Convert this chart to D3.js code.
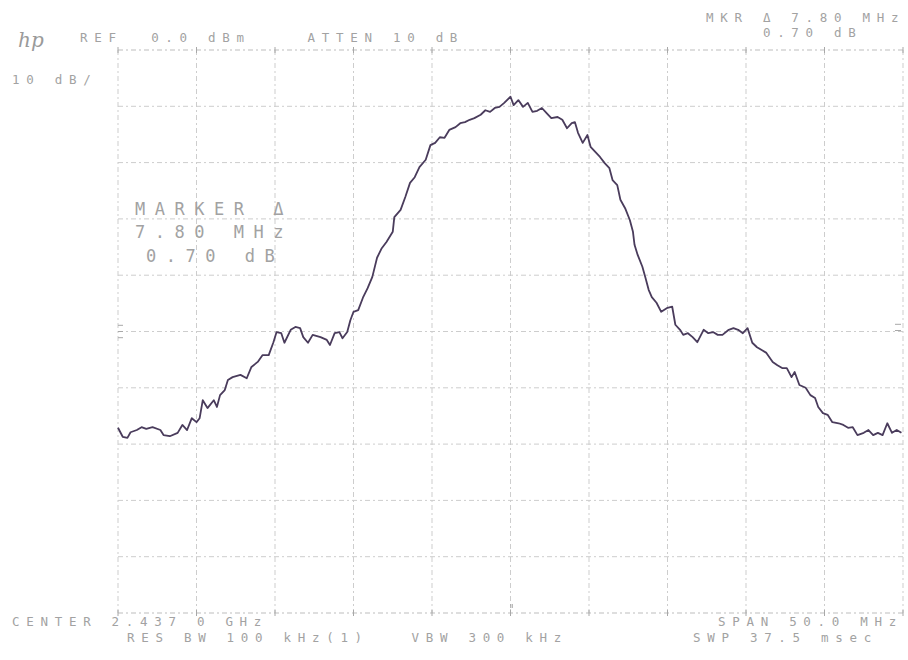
<!DOCTYPE html>
<html>
<head>
<meta charset="utf-8">
<script src="https://cdn.jsdelivr.net/npm/d3@7/dist/d3.min.js"></script>
<style>
  html, body { margin: 0; padding: 0; background: #ffffff; }
  svg { display: block; }
  .lbl { font-family: "DejaVu Sans Mono", "Liberation Mono", monospace; white-space: pre; }
</style>
</head>
<body>
<svg id="chart" width="908" height="660"></svg>
<script>
// Spectrum analyser plot: 2.4370 GHz centre, 50 MHz span, 10 dB/div from a 0 dBm reference.
const centerMHz = 2437.0;
const spanMHz = 50;
const refLevelDbm = 0;
const dbPerDiv = 10;
const xDivisions = 10;
const yDivisions = 10;

// Trace samples: offset from centre (MHz) and level (dBm)
const traceOffsetMHz = [
  -25.0, -24.7, -24.4, -24.2, -23.8, -23.5, -23.2, -22.8, -22.3, -22.1,
  -21.7, -21.2, -20.9, -20.6, -20.3, -20.0, -19.8, -19.6, -19.3, -18.9,
  -18.7, -18.5, -18.2, -18.0, -17.7, -17.2, -16.8, -16.5, -16.1, -15.8,
  -15.4, -15.1, -14.9, -14.6, -14.4, -14.0, -13.7, -13.4, -13.2, -12.9,
  -12.6, -12.1, -11.7, -11.5, -11.2, -10.9, -10.7, -10.4, -10.2, -10.0,
  -9.7, -9.4, -9.1, -8.8, -8.5, -8.2, -7.9, -7.5, -7.4, -7.0,
  -6.7, -6.4, -6.1, -5.8, -5.4, -5.1, -4.8, -4.5, -4.2, -3.9,
  -3.5, -3.2, -2.9, -2.6, -2.3, -1.9, -1.6, -1.3, -1.0, -0.7,
  -0.4, 0.0, 0.2,
  0.5, 0.8, 1.1, 1.4, 1.7, 2.0, 2.3, 2.6, 3.0, 3.3,
  3.6, 3.9, 4.1, 4.3, 4.6, 4.9, 5.1, 5.4, 5.7, 6.0,
  6.3, 6.5, 6.8, 7.0, 7.3, 7.6, 7.8, 7.9, 8.1, 8.4,
  8.6, 8.8, 9.0, 9.3, 9.6, 10.0, 10.3, 10.5, 10.8,
  11.0, 11.3, 11.6, 11.9, 12.3, 12.6, 12.9, 13.2, 13.5, 13.9,
  14.2, 14.5, 14.8, 15.1, 15.4, 15.7, 16.0, 16.3, 16.7, 17.0,
  17.3, 17.6, 17.9, 18.1, 18.4, 18.8, 19.1, 19.4, 19.6, 19.9,
  20.2, 20.5, 20.9, 21.2, 21.5, 21.8, 22.1, 22.5, 22.8, 23.1,
  23.4, 23.7, 24.0, 24.3, 24.6, 24.9
];
const traceLevelDbm = [
  -67.1, -68.7, -68.9, -67.9, -67.5, -67.0, -67.3, -67.0, -67.5, -68.4,
  -68.6, -68.0, -66.6, -67.5, -65.4, -66.1, -65.4, -62.2, -63.6, -62.2,
  -63.4, -61.3, -60.4, -58.6, -58.1, -57.7, -58.3, -56.3, -55.4, -54.2,
  -54.2, -51.9, -50.1, -50.3, -52.0, -49.7, -49.2, -49.4, -51.0, -52.0,
  -50.6, -51.0, -51.5, -52.4, -50.3, -50.1, -51.2, -50.1, -48.0, -46.5,
  -46.2, -44.0, -42.3, -40.3, -36.9, -35.2, -34.1, -32.3, -29.7, -28.4,
  -26.1, -23.6, -22.6, -20.8, -19.5, -16.9, -16.5, -15.5, -15.6, -14.2,
  -13.7, -13.0, -12.8, -12.4, -12.1, -11.5, -10.7, -11.0, -10.3, -10.1,
  -9.4, -8.3, -9.8,
  -8.9, -10.1, -9.4, -11.0, -10.8, -10.3, -11.2, -12.1, -11.9, -12.4,
  -13.9, -13.0, -12.8, -14.7, -16.5, -15.1, -17.2, -18.1, -19.0, -20.1,
  -21.0, -23.1, -24.0, -26.6, -28.1, -30.2, -32.3, -34.6, -36.4, -38.5,
  -40.5, -42.6, -43.9, -44.9, -46.5, -45.8, -45.6, -48.8, -49.7,
  -50.6, -50.3, -51.0, -51.9, -49.7, -50.3, -50.1, -50.6, -50.6, -49.7,
  -49.4, -49.7, -50.3, -49.4, -52.0, -52.8, -53.3, -53.8, -55.4, -56.0,
  -56.5, -56.5, -58.1, -57.2, -59.5, -60.0, -61.3, -61.8, -63.4, -64.5,
  -64.8, -66.1, -66.3, -66.6, -67.1, -67.0, -68.4, -68.0, -67.5, -68.4,
  -68.0, -68.4, -66.3, -68.0, -67.5, -68.0
];

// Annotation text
const headerLeft = "REF  0.0 dBm    ATTEN 10 dB";
const scaleLabel = "10 dB/";
const markerHeader = ["MKR \u0394 7.80 MHz", "    0.70 dB"];
const markerBlock = ["MARKER \u0394", "7.80 MHz", "0.70 dB"];
const footerLeft = ["CENTER 2.437 0 GHz", "RES BW 100 kHz(1)   VBW 300 kHz"];
const footerRight = ["SPAN 50.0 MHz", "SWP 37.5 msec"];

const svg = d3.select("#chart");
const plot = { left: 118, right: 903, top: 50, bottom: 613 };

const x = d3.scaleLinear()
  .domain([-spanMHz / 2, spanMHz / 2])
  .range([plot.left, plot.right]);
const y = d3.scaleLinear()
  .domain([refLevelDbm - dbPerDiv * yDivisions, refLevelDbm])
  .range([plot.bottom, plot.top]);

const xTicks = d3.range(xDivisions + 1).map(i => -spanMHz / 2 + i * spanMHz / xDivisions);
const yTicks = d3.range(yDivisions + 1).map(i => refLevelDbm - i * dbPerDiv);

// Graticule
const grid = svg.append("g").attr("fill", "none");
grid.selectAll("line.v").data(xTicks).join("line")
  .attr("class", "v")
  .attr("x1", d => x(d)).attr("x2", d => x(d))
  .attr("y1", plot.top).attr("y2", plot.bottom)
  .attr("stroke", "#cdcdcd").attr("stroke-width", 1)
  .attr("stroke-dasharray", "5 3 2 3");
grid.selectAll("line.h").data(yTicks).join("line")
  .attr("class", "h")
  .attr("x1", plot.left).attr("x2", plot.right)
  .attr("y1", d => y(d)).attr("y2", d => y(d))
  .attr("stroke", d => (d === refLevelDbm || d === refLevelDbm - dbPerDiv * yDivisions) ? "#bdbdbd" : "#cdcdcd")
  .attr("stroke-width", 1)
  .attr("stroke-dasharray", "5 3 2 3");

// Division ticks along the top and bottom edges
const edgeTicks = svg.append("g").attr("stroke", "#a8a8a8").attr("stroke-width", 1);
[plot.top, plot.bottom].forEach(edge => {
  edgeTicks.selectAll(null).data(xTicks).join("line")
    .attr("x1", d => x(d)).attr("x2", d => x(d))
    .attr("y1", edge - 3).attr("y2", edge + 3);
});
// Centre-frequency marks at the bottom edge
edgeTicks.selectAll(null).data([-0.05, 0.05]).join("line")
  .attr("x1", d => x(d) + 1).attr("x2", d => x(d) + 1)
  .attr("y1", plot.bottom - 9).attr("y2", plot.bottom - 5);
// Reference marks on the side edges at the -50 dB division
const sideMarks = [-48.9, -50, -51.1];
edgeTicks.selectAll(null).data(sideMarks).join("line")
  .attr("x1", plot.left).attr("x2", plot.left + 5)
  .attr("y1", d => y(d)).attr("y2", d => y(d));
edgeTicks.selectAll(null).data(sideMarks.slice(0, 2)).join("line")
  .attr("x1", plot.right - 8).attr("x2", plot.right - 2)
  .attr("y1", d => y(d) - 1).attr("y2", d => y(d) - 1);

// Trace
const trace = traceOffsetMHz.map((f, i) => ({ f, v: traceLevelDbm[i] }));
const line = d3.line().x(d => x(d.f)).y(d => y(d.v)).curve(d3.curveLinear);
svg.append("path")
  .datum(trace)
  .attr("d", line)
  .attr("fill", "none")
  .attr("stroke", "#4a3c5c")
  .attr("stroke-width", 1.8)
  .attr("stroke-linejoin", "round");

// Annotation text
const textColor = "#a2a2a2";
function label(str, px, py, size, spacing) {
  svg.append("text")
    .attr("class", "lbl")
    .attr("x", px).attr("y", py)
    .attr("font-size", size)
    .attr("letter-spacing", spacing)
    .attr("fill", textColor)
    .text(str);
}
const small = 12.5, smallSp = 6.7;
label(headerLeft, 80, 42, small, smallSp);
label(scaleLabel, 12, 84, small, smallSp);
label(markerHeader[0], 706, 22, small, smallSp);
label(markerHeader[1], 706, 37, small, smallSp);
label(footerLeft[0], 12, 626, small, smallSp);
label(footerLeft[1], 127, 642, small, smallSp);
label(footerRight[0], 718, 626, small, smallSp);
label(footerRight[1], 693, 642, small, smallSp);

label(markerBlock[0], 135, 215, 17, 9.5);
label(markerBlock[1], 135, 238, 17, 9.5);
label(markerBlock[2], 146, 262, 17, 9.5);

// Maker's logo
svg.append("text")
  .attr("x", 18).attr("y", 47)
  .attr("font-family", "DejaVu Serif, serif")
  .attr("font-style", "italic")
  .attr("font-size", 20)
  .attr("fill", "#9a9a9a")
  .text("hp");
</script>
</body>
</html>
